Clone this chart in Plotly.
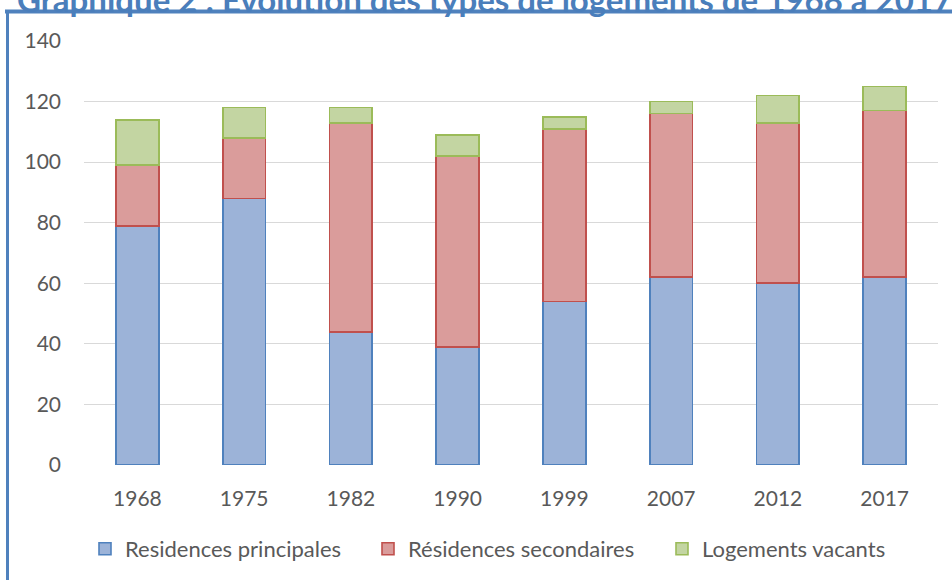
import plotly.graph_objects as go

years = ["1968", "1975", "1982", "1990", "1999", "2007", "2012", "2017"]
principales = [79, 88, 44, 39, 54, 62, 60, 62]
secondaires = [20, 20, 69, 63, 57, 54, 53, 55]
vacants = [15, 10, 5, 7, 4, 4, 9, 8]
y_ticks = [0, 20, 40, 60, 80, 100, 120, 140]

series = [
    ("Residences principales", principales, "#9CB3D8", "#4F81BD"),
    ("Résidences secondaires", secondaires, "#DA9C9B", "#C0504D"),
    ("Logements vacants", vacants, "#C3D5A2", "#9BBB59"),
]

W, H = 952, 580
L, R, T, B = 84, 14, 41, 115
PW, PH = W - L - R, H - T - B


def px_x(p):
    return (p - L) / PW


def px_y(p):
    return (H - B - p) / PH


FONT = "Lato"
GREY = "#595959"
BLUE = "#4F81BD"

legend_names = ["legend", "legend2", "legend3"]
legend_left_px = [85, 368, 662]

fig = go.Figure()
for (name, vals, fill, line), lg in zip(series, legend_names):
    fig.add_trace(go.Bar(
        x=years, y=vals, name=name, legend=lg,
        marker=dict(color=fill, line=dict(color=line, width=1.6)),
        width=0.4,
    ))

legend_layout = {}
for lg, lx in zip(legend_names, legend_left_px):
    legend_layout[lg] = dict(
        orientation="h", x=px_x(lx), xanchor="left",
        y=px_y(549), yanchor="middle",
        font=dict(family=FONT, size=22, color=GREY),
        itemwidth=30, bgcolor="rgba(0,0,0,0)",
    )

fig.update_layout(
    width=W, height=H,
    barmode="stack",
    margin=dict(l=L, r=R, t=T, b=B, autoexpand=False),
    paper_bgcolor="white", plot_bgcolor="white",
    font=dict(family=FONT, color=GREY, size=21),
    showlegend=True,
    xaxis=dict(
        type="category", showgrid=False, showline=False, zeroline=False,
        ticks="", tickfont=dict(family=FONT, size=21, color=GREY),
        ticklabelstandoff=19, automargin=False,
    ),
    yaxis=dict(
        range=[0, 140], tickvals=y_ticks, showgrid=True,
        gridcolor="#D9D9D9", gridwidth=1.4, zeroline=False, showline=False,
        ticks="", tickfont=dict(family=FONT, size=21, color=GREY),
        ticklabelstandoff=22, automargin=False,
    ),
    shapes=[
        dict(type="line", xref="paper", yref="paper",
             x0=px_x(5), x1=px_x(952), y0=px_y(11.5), y1=px_y(11.5),
             line=dict(color=BLUE, width=4), layer="above"),
        dict(type="line", xref="paper", yref="paper",
             x0=px_x(7.5), x1=px_x(7.5), y0=px_y(11.5), y1=px_y(582),
             line=dict(color=BLUE, width=3), layer="above"),
    ],
    annotations=[
        dict(text="<b>Graphique 2 : Évolution des types de logements de 1968 à 2017</b>",
             xref="paper", yref="paper", x=px_x(15), xanchor="left",
             y=px_y(-1.5), yanchor="middle", showarrow=False,
             font=dict(family=FONT, size=33, color="#4A7EBB")),
    ],
    **legend_layout,
)

fig.write_html(
    "out.html",
    config={"displayModeBar": False},
    post_script="document.body.style.margin='0';document.body.style.overflow='hidden';",
)
